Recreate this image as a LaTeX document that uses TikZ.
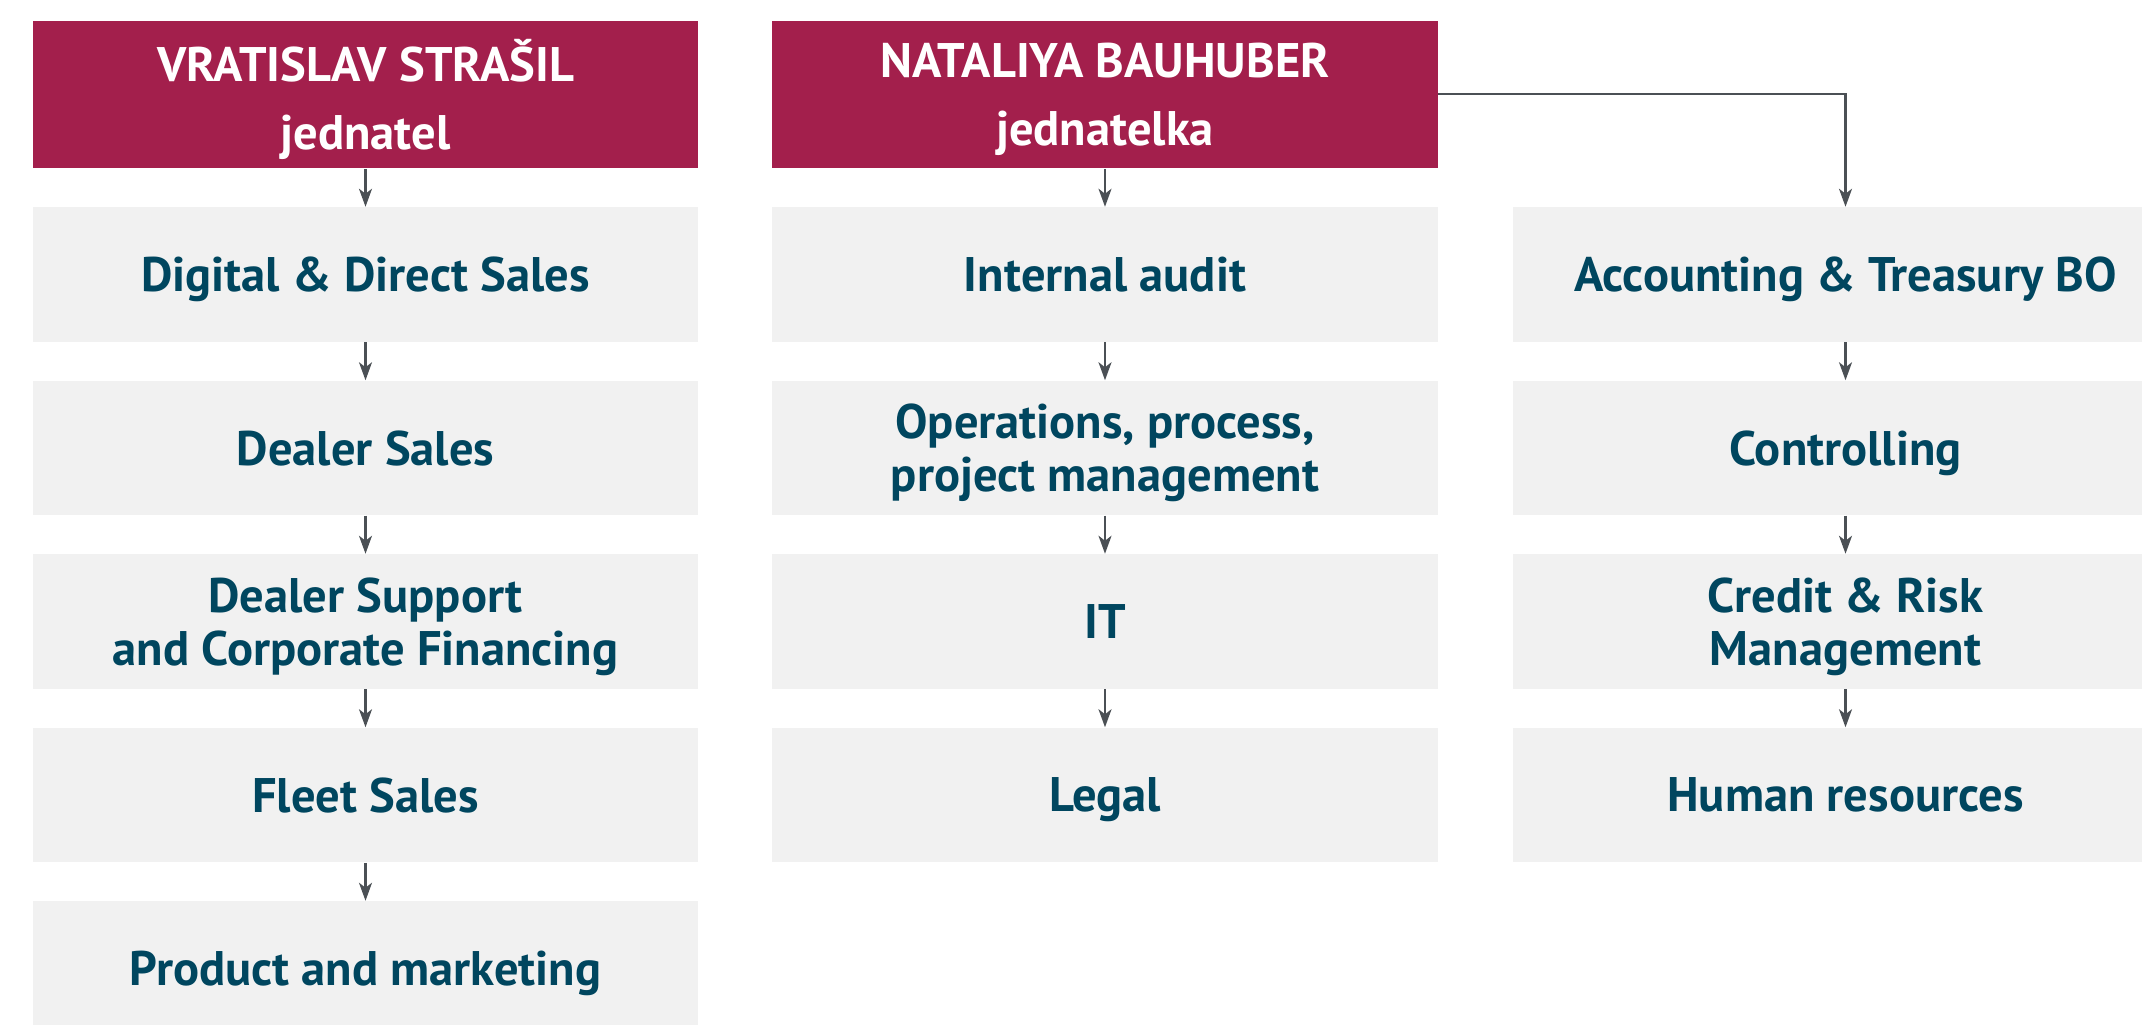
\documentclass[tikz,border=0pt]{standalone}
\usepackage{fontspec}
\setmainfont{PT Sans}
\usetikzlibrary{arrows.meta}

\definecolor{headred}{HTML}{A31F4C}
\definecolor{boxgray}{HTML}{F1F1F1}
\definecolor{textblue}{HTML}{00465F}
\definecolor{arrowgray}{HTML}{4B5055}

\begin{document}
\begin{tikzpicture}[x=0.01cm, y=-0.01cm,
    head/.style={fill=headred, text=white, minimum width=6.65cm, minimum height=1.475cm,
        align=center, inner sep=0pt, text depth=0pt, font=\fontsize{13.8}{19.5}\selectfont\bfseries},
    unit/.style={fill=boxgray, text=textblue, minimum width=6.65cm, minimum height=1.34cm,
        align=center, inner sep=0pt, text depth=0pt, font=\fontsize{13.8}{15}\selectfont\bfseries},
    link/.style={draw=arrowgray, line width=0.6pt, -{Stealth[length=1.8mm, width=1.3mm, inset=0.5mm]}}]
    % Page frame
    \useasboundingbox (0,0) rectangle (2142,1024);
    \clip (0,0) rectangle (2142,1024);
    % Managing directors
    \node[head] (strasil) at (365.5,94.3) {VRATISLAV STRAŠIL\\jednatel};
    \node[head] (bauhuber) at (1105,94.3) {NATALIYA BAUHUBER\\jednatelka};
    % Sales column
    \node[unit] (digital) at (365.5,274.5) {Digital \& Direct Sales};
    \node[unit] (dealer) at (365.5,448) {Dealer Sales};
    \node[unit] (support) at (365.5,621.5) {Dealer Support\\and Corporate Financing};
    \node[unit] (fleet) at (365.5,795) {Fleet Sales};
    \node[unit] (product) at (365.5,968.5) {Product and marketing};
    % Operations column
    \node[unit] (audit) at (1105,274.5) {Internal audit};
    \node[unit] (operations) at (1105,448) {Operations, process,\\project management};
    \node[unit] (it) at (1105,621.5) {IT};
    \node[unit] (legal) at (1105,795) {Legal};
    % Finance column
    \node[unit] (accounting) at (1845.5,274.5) {Accounting \& Treasury BO};
    \node[unit] (controlling) at (1845.5,448) {Controlling};
    \node[unit] (risk) at (1845.5,621.5) {Credit \& Risk\\Management};
    \node[unit] (hr) at (1845.5,795) {Human resources};
    % Links
    \foreach \a/\b in {strasil/digital, digital/dealer, dealer/support, support/fleet, fleet/product,
        bauhuber/audit, audit/operations, operations/it, it/legal,
        accounting/controlling, controlling/risk, risk/hr}
        \draw[link] (\a) -- (\b);
    \draw[link] (bauhuber.east) -| (accounting.north);
\end{tikzpicture}
\end{document}
